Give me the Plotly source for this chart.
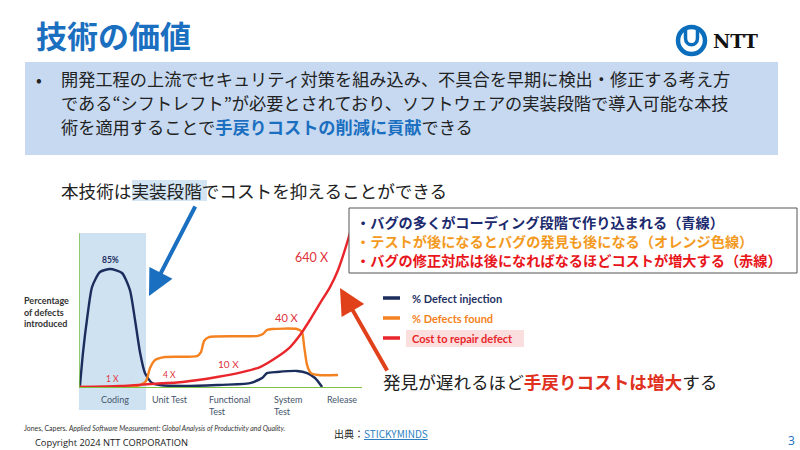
import plotly.graph_objects as go

W, H = 800, 450
def P(x): return x / W
def Q(y): return 1 - y / H

JP = "Noto Sans CJK JP"
SANS = "Lato"

# ---------------- data (chart units: x = development timeline 0-100, y = % scale) -------------
stages = ["Coding", "Unit Test", "Functional<br>Test", "System<br>Test", "Release"]
stage_x = [7.1, 25.1, 45.2, 68.2, 87.0]

inj_x = [0.3, 1.4, 2.8, 4.6, 7.4, 11.0, 15.2, 18.0, 19.8, 21.6, 23.3, 25.8, 28.6, 36.7, 48.8, 60.4, 64.7, 66.4, 70.0, 77.0, 80.6, 83.4, 85.9]
inj_y = [0.7, 24.8, 48.3, 71.7, 82.4, 84.5, 81.7, 69.6, 48.3, 24.8, 10.6, 3.5, 2.1, 1.4, 2.1, 3.5, 7.1, 10.6, 11.4, 12.1, 10.6, 7.1, 0.7]

found_x = [0.0, 18.0, 21.6, 23.7, 25.1, 26.9, 30.4, 41.7, 43.1, 44.2, 45.9, 62.9, 65.0, 66.4, 68.2, 77.0, 78.8, 79.5, 80.6, 82.0, 84.5, 91.5]
found_y = [0.7, 0.7, 2.1, 5.0, 14.2, 19.9, 22.0, 22.7, 25.5, 33.4, 36.2, 36.9, 38.3, 41.2, 41.9, 41.9, 39.7, 30.5, 16.3, 10.6, 9.2, 9.2]

cost_x = [0.0, 14.5, 25.1, 36.7, 48.8, 58.0, 64.0, 70.0, 74.6, 78.1, 81.6, 85.2, 88.7, 91.5, 94.7, 97.5]
cost_y = [0.7, 1.4, 2.8, 4.3, 7.8, 11.4, 14.9, 22.0, 29.1, 37.6, 48.3, 60.3, 71.7, 83.7, 102.9, 122.8]

cost_labels = ["1 X", "4 X", "10 X", "40 X", "640 X"]
cost_lab_x = [11.7, 32.0, 53.0, 73.5, 82.0]
cost_lab_y = [6.4, 9.2, 17.0, 50.0, 93.0]
cost_lab_size = [8.5, 8.5, 10, 11, 12.5]

peak_label = "85%"
peak_x, peak_y = 11.3, 91.0

series_names = ["% Defect injection", "% Defects found", "Cost to repair defect"]
series_colors = ["#1b2d5c", "#f58220", "#e8262b"]

bullet_lines = [
    "開発工程の上流でセキュリティ対策を組み込み、不具合を早期に検出・修正する考え方",
    "である“シフトレフト”が必要とされており、ソフトウェアの実装段階で導入可能な本技",
    "術を適用することで<b><span style='color:#1a6fc0'>手戻りコストの削減に貢献</span></b>できる",
]
callout_lines = [
    ("・バグの多くがコーディング段階で作り込まれる（青線）", "#1c2a6e"),
    ("・テストが後になるとバグの発見も後になる（オレンジ色線）", "#f39a1e"),
    ("・バグの修正対応は後になればなるほどコストが増大する（赤線）", "#e8161b"),
]

# ---------------- figure ----------------
fig = go.Figure()

x_dom = [P(79), P(362)]
y_dom = [Q(388), Q(205)]

for xs, ys, c in [(inj_x, inj_y, series_colors[0]), (found_x, found_y, series_colors[1]), (cost_x, cost_y, series_colors[2])]:
    fig.add_trace(go.Scatter(x=xs, y=ys, mode="lines", line=dict(color=c, width=2.4, shape="spline", smoothing=0.6),
                             showlegend=False, hoverinfo="skip", cliponaxis=False))

shapes = []
# coding stage shading
shapes.append(dict(type="rect", xref="x", yref="paper", x0=0, x1=23.7, y0=Q(410), y1=Q(233),
                   fillcolor="#cfe2f2", line=dict(width=0), layer="below"))
# axes (green)
shapes.append(dict(type="line", xref="x", yref="y", x0=0, x1=100, y0=0, y1=0, line=dict(color="#7dc242", width=2)))
shapes.append(dict(type="line", xref="x", yref="y", x0=0, x1=0, y0=0, y1=110, line=dict(color="#7dc242", width=1.5)))

# bullet box
shapes.append(dict(type="rect", xref="paper", yref="paper", x0=P(25), x1=P(778), y0=Q(155), y1=Q(62),
                   fillcolor="#c6d9f0", line=dict(width=0), layer="below"))
# highlight 実装段階
shapes.append(dict(type="rect", xref="paper", yref="paper", x0=P(132), x1=P(207), y0=Q(201), y1=Q(180),
                   fillcolor="#d3e5f3", line=dict(width=0), layer="below"))
# callout box (covers the top of the cost curve)
shapes.append(dict(type="rect", xref="paper", yref="paper", x0=P(349), x1=P(797), y0=Q(273), y1=Q(208),
                   fillcolor="white", line=dict(color="#555555", width=1), layer="above"))
# legend pink background
shapes.append(dict(type="rect", xref="paper", yref="paper", x0=P(406), x1=P(524), y0=Q(347), y1=Q(330),
                   fillcolor="#fbdede", line=dict(width=0), layer="below"))
# legend lines
for i, c in enumerate(series_colors):
    yy = 298 + 20 * i
    shapes.append(dict(type="line", xref="paper", yref="paper", x0=P(383), x1=P(400), y0=Q(yy), y1=Q(yy),
                       line=dict(color=c, width=3.5)))

# NTT logo
shapes.append(dict(type="circle", xref="paper", yref="paper", x0=P(678), x1=P(705), y0=Q(54), y1=Q(27),
                   line=dict(color="#0a6ebd", width=4.5)))
def pt(x, y): return f"{P(x):.5f},{Q(y):.5f}"
logo_path = ("M " + pt(685.5, 29) + " L " + pt(685.5, 38) + " C " + pt(685.5, 47) + " " + pt(697.5, 47) + " " + pt(697.5, 38)
             + " L " + pt(697.5, 29))
shapes.append(dict(type="path", xref="paper", yref="paper", path=logo_path, line=dict(color="#0a6ebd", width=3.5)))

annotations = []
def txt(x, y, text, size, color="#222222", family=JP, xanchor="left", **kw):
    annotations.append(dict(x=P(x), y=Q(y), xref="paper", yref="paper", text=text, showarrow=False,
                            xanchor=xanchor, yanchor="middle", font=dict(size=size, color=color, family=family), **kw))

# title
txt(34, 34, "<b>技術の価値</b>", 31, "#1a6fc0")
txt(711, 41, "<b>NTT</b>", 19, "#111111", family="DejaVu Serif")

# bullet text
txt(34, 78, "•", 17, "#222222")
for i, line in enumerate(bullet_lines):
    txt(59, 78 + 24 * i, line, 17.2, "#222222")

# subtitle
txt(59, 190, "本技術は実装段階でコストを抑えることができる", 17.6, "#222222")

# callout lines
for i, (line, c) in enumerate(callout_lines):
    txt(354, 222 + 19 * i, f"<b>{line}</b>", 14.2, c)

# bottom message
txt(381, 381, "発見が遅れるほど<b><span style='color:#e0301e'>手戻りコストは増大</span></b>する", 17.6, "#222222")

# legend texts
for i, (n, c) in enumerate(zip(series_names, series_colors)):
    txt(410, 298 + 20 * i, f"<b>{n}</b>", 11, c if i else "#1f3264", family=SANS)

# y-axis label
txt(22, 312, "<b>Percentage<br>of defects<br>introduced</b>", 9, "#333333", family=SANS, align="left")

# stage labels
for s, sx in zip(stages, stage_x):
    annotations.append(dict(x=sx, y=0, xref="x", yref="y", text=s, showarrow=False, xanchor="left", yanchor="top",
                            yshift=-4, align="left", font=dict(size=9, color="#44546a", family=SANS)))

# chart labels
annotations.append(dict(x=peak_x, y=peak_y, xref="x", yref="y", text=f"<b>{peak_label}</b>", showarrow=False,
                        font=dict(size=8.5, color="#1b2d5c", family=SANS)))
for t, lx, ly, sz in zip(cost_labels, cost_lab_x, cost_lab_y, cost_lab_size):
    annotations.append(dict(x=lx, y=ly, xref="x", yref="y", text=t, showarrow=False,
                            font=dict(size=sz, color="#e0323a", family=SANS)))

# arrows
annotations.append(dict(x=P(149), y=Q(296), xref="paper", yref="paper", ax=47, ay=-91, text="", showarrow=True,
                        arrowhead=2, arrowsize=1.3, arrowwidth=4, arrowcolor="#1a6fc0"))
annotations.append(dict(x=P(340), y=Q(288), xref="paper", yref="paper", ax=48, ay=84, text="", showarrow=True,
                        arrowhead=2, arrowsize=1.3, arrowwidth=4, arrowcolor="#e0401a"))

# footer
txt(22, 428, "Jones, Capers. <i>Applied Software Measurement: Global Analysis of Productivity and Quality.</i>", 6.9, "#333333", family=SANS)
txt(332, 433, "出典：<span style='color:#2e7fc1'><u>STICKYMINDS</u></span>", 10, "#222222")
txt(33, 442, "Copyright 2024 NTT CORPORATION", 9.3, "#222222", family="Open Sans")
txt(791, 440, "3", 12, "#1a6fc0", family="Open Sans", xanchor="center")

fig.update_layout(
    width=W, height=H, margin=dict(l=0, r=0, t=0, b=0), autosize=False,
    paper_bgcolor="white", plot_bgcolor="rgba(0,0,0,0)",
    xaxis=dict(domain=x_dom, range=[0, 100], visible=False, fixedrange=True),
    yaxis=dict(domain=y_dom, range=[0, 130], visible=False, fixedrange=True),
    shapes=shapes, annotations=annotations, showlegend=False,
)

fig.write_html("out.html")
